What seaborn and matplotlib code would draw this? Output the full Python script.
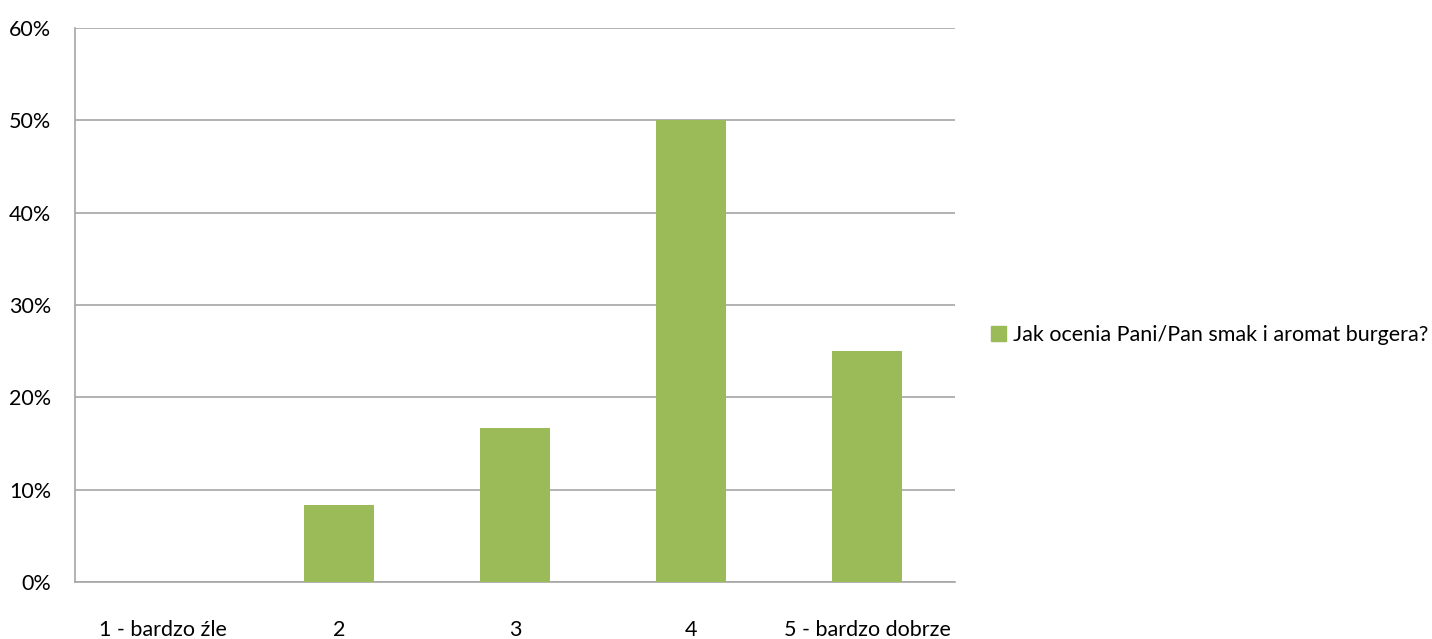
import matplotlib
matplotlib.use("Agg")
import matplotlib.pyplot as plt
import matplotlib.patches as mpatches
from matplotlib.ticker import PercentFormatter
import seaborn as sns

# dane z wykresu
categories = ["1 - bardzo źle", "2", "3", "4", "5 - bardzo dobrze"]
values = [0.0, 8.33, 16.67, 50.0, 25.0]
series_name = "Jak ocenia Pani/Pan smak i aromat burgera?"
bar_color = "#9BBB59"
grid_color = "#A6A6A6"

sns.set_style("white")
plt.rcParams["font.family"] = ["Lato", "DejaVu Sans"]
plt.rcParams["text.color"] = "black"
plt.rcParams["xtick.color"] = "black"
plt.rcParams["ytick.color"] = "black"

fig = plt.figure(figsize=(14.32, 6.39), dpi=100)
ax = fig.add_axes([75 / 1432, 1 - 582 / 639, 880 / 1432, 554 / 639])

sns.barplot(x=categories, y=values, color=bar_color, width=0.4,
            saturation=1, linewidth=0, ax=ax, zorder=3)

ax.set_ylim(0, 60)
ax.set_yticks(range(0, 61, 10))
ax.yaxis.set_major_formatter(PercentFormatter(decimals=0))
ax.set_xlim(-0.5, 4.5)
ax.set_xlabel("")
ax.set_ylabel("")
ax.grid(axis="y", color=grid_color, linewidth=1.2, zorder=0)
ax.grid(axis="x", visible=False)

for s in ["top", "right"]:
    ax.spines[s].set_visible(False)
for s in ["left", "bottom"]:
    ax.spines[s].set_color(grid_color)
    ax.spines[s].set_linewidth(1.2)

ax.tick_params(axis="y", length=0, pad=17, labelsize=15.5)
ax.tick_params(axis="x", length=0, pad=27, labelsize=15.5)

handle = mpatches.Patch(color=bar_color, label=series_name)
fig.legend(handles=[handle], loc="center left",
           bbox_to_anchor=(972 / 1432, 1 - 335 / 639),
           frameon=False, fontsize=15.5, handlelength=0.7, handleheight=0.7,
           handletextpad=0.3)

fig.savefig("out.png", dpi=100)
